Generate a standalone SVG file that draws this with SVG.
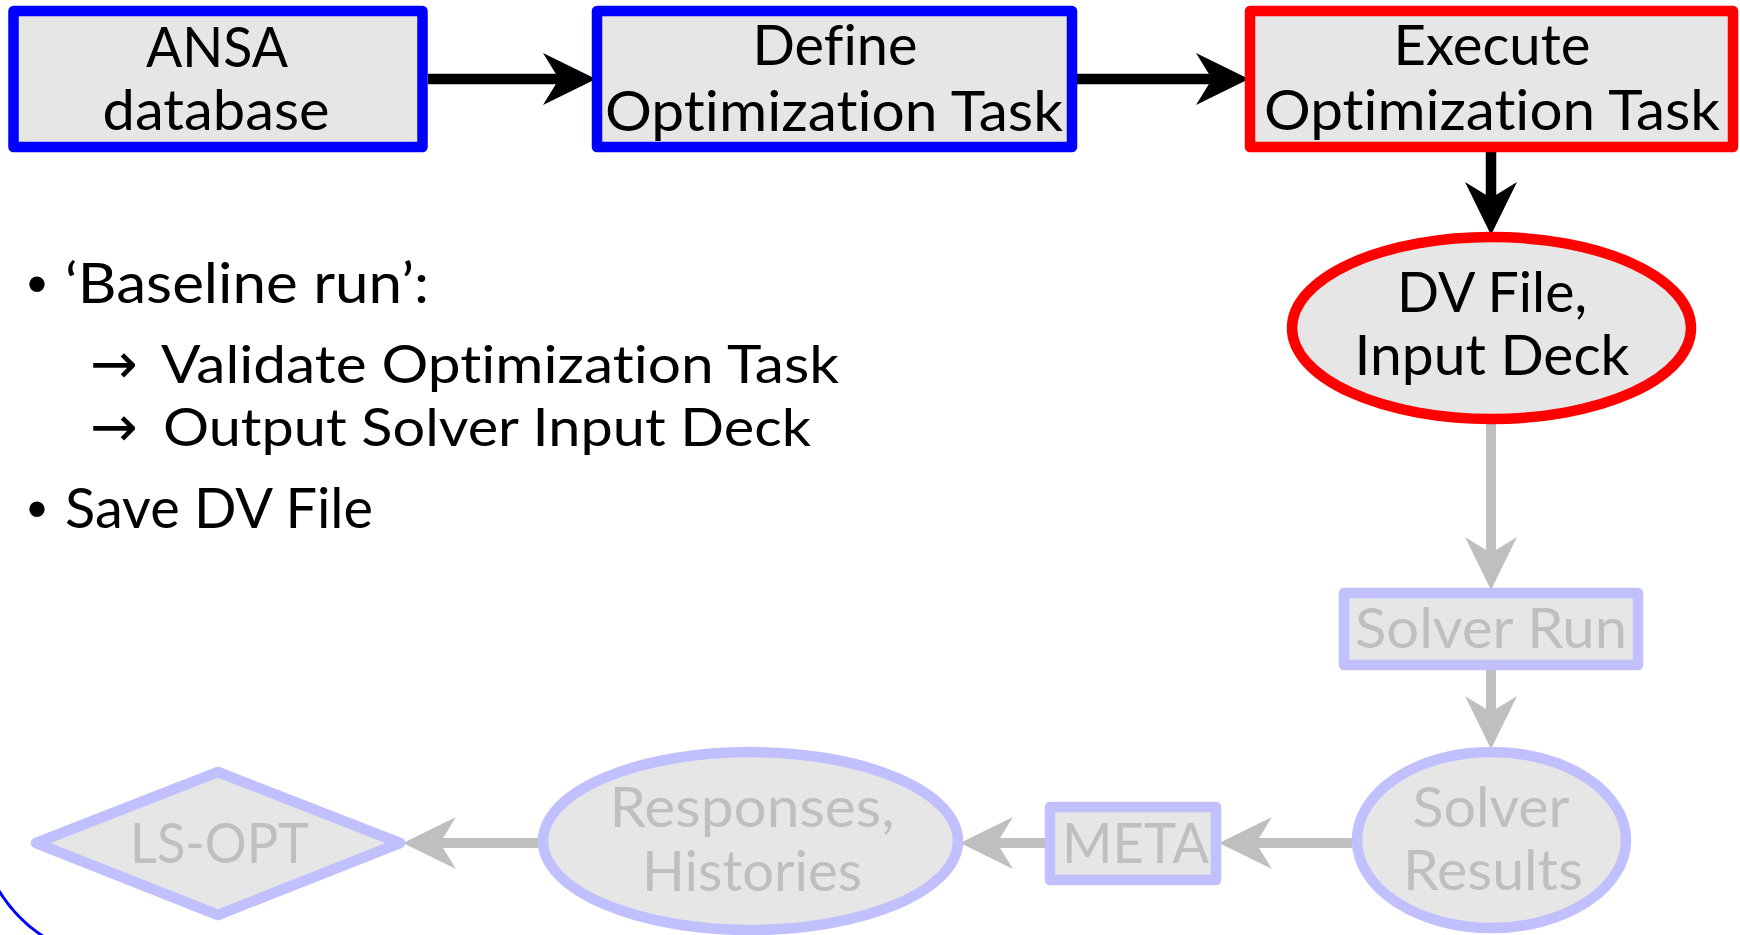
<svg xmlns="http://www.w3.org/2000/svg" width="1740" height="935" viewBox="0 0 1740 935">
<defs>
<style>
.box{fill:#e6e6e6;stroke-width:10.5;stroke-linejoin:round}
.blue{stroke:#0000ff}
.red{stroke:#ff0000}
.lav{stroke:#c0c0ff}
.t{font-family:Lato,"Liberation Sans",sans-serif;font-size:57px;text-anchor:middle;fill:#000;font-variant-ligatures:none;font-feature-settings:"liga" 0,"clig" 0}
.tl{font-family:Lato,"Liberation Sans",sans-serif;font-size:57px;fill:#000;font-variant-ligatures:none;font-feature-settings:"liga" 0,"clig" 0}
.sm{font-size:52px}
.ar{font-family:"DejaVu Sans",sans-serif;font-size:57px}
.bu{font-family:"Liberation Sans",sans-serif}
.g{fill:#bfbfbf}
.blk{stroke:#000;stroke-width:10.5;fill:none}
.gry{stroke:#bfbfbf;stroke-width:10;fill:none}
</style>
<marker id="ah" markerUnits="userSpaceOnUse" viewBox="0 0 53 52" refX="16" refY="26" markerWidth="53" markerHeight="52" orient="auto"><path d="M0,0 L53,26 L0,52 L16,26 Z" fill="#000"/></marker>
<marker id="ahg" markerUnits="userSpaceOnUse" viewBox="0 0 53 52" refX="16" refY="26" markerWidth="53" markerHeight="52" orient="auto"><path d="M0,0 L53,26 L0,52 L16,26 Z" fill="#bfbfbf"/></marker>
</defs>
<rect width="1740" height="935" fill="#fff"/>
<path d="M-4,886 Q16,920 46,938" fill="none" stroke="#0000ff" stroke-width="3"/>
<g id="connectors">
<path class="blk" d="M428,79 H559" marker-end="url(#ah)"/>
<path class="blk" d="M1077,79 H1212" marker-end="url(#ah)"/>
<path class="blk" d="M1491,152 V198" marker-end="url(#ah)"/>
<path class="gry" d="M1491,424 V553" marker-end="url(#ahg)"/>
<path class="gry" d="M1491,670 V712" marker-end="url(#ahg)"/>
<path class="gry" d="M1352,843 H1256" marker-end="url(#ahg)"/>
<path class="gry" d="M1045,843 H997" marker-end="url(#ahg)"/>
<path class="gry" d="M538,843 H440" marker-end="url(#ahg)"/>
</g>
<g id="ansa">
<rect class="box blue" x="13.5" y="11" width="409" height="136"/>
<text class="t" x="217" y="67" textLength="142" lengthAdjust="spacingAndGlyphs">ANSA</text>
<text class="t" x="216" y="130" textLength="227" lengthAdjust="spacingAndGlyphs">database</text>
</g>
<g id="define">
<rect class="box blue" x="597" y="11" width="475" height="136"/>
<text class="t" x="835" y="65" textLength="165" lengthAdjust="spacingAndGlyphs">Define</text>
<text class="t" x="834" y="131" textLength="458" lengthAdjust="spacingAndGlyphs">Optimization Task</text>
</g>
<g id="execute">
<rect class="box red" x="1250" y="11" width="483" height="136"/>
<text class="t" x="1492" y="65" textLength="197" lengthAdjust="spacingAndGlyphs">Execute</text>
<text class="t" x="1492" y="130" textLength="456" lengthAdjust="spacingAndGlyphs">Optimization Task</text>
</g>
<g id="dvfile">
<ellipse class="box red" cx="1491.5" cy="328" rx="199.5" ry="91"/>
<text class="t" x="1492" y="312" textLength="190" lengthAdjust="spacingAndGlyphs">DV File,</text>
<text class="t" x="1492" y="375" textLength="275" lengthAdjust="spacingAndGlyphs">Input Deck</text>
</g>
<g id="solverrun">
<rect class="box lav" x="1344" y="593" width="294" height="72"/>
<text class="t g" x="1491" y="648" textLength="272" lengthAdjust="spacingAndGlyphs">Solver Run</text>
</g>
<g id="solverresults">
<ellipse class="box lav" cx="1491.5" cy="840" rx="134.5" ry="88"/>
<text class="t g" x="1491" y="827" textLength="157" lengthAdjust="spacingAndGlyphs">Solver</text>
<text class="t g" x="1493" y="890" textLength="180" lengthAdjust="spacingAndGlyphs">Results</text>
</g>
<g id="meta">
<rect class="box lav" x="1050" y="807" width="166" height="73"/>
<text class="t g" x="1135.5" y="863" textLength="147" lengthAdjust="spacingAndGlyphs">META</text>
</g>
<g id="responses">
<ellipse class="box lav" cx="750.5" cy="841" rx="207.5" ry="89"/>
<text class="t g" x="752" y="827" textLength="285" lengthAdjust="spacingAndGlyphs">Responses,</text>
<text class="t g" x="752" y="891" textLength="220" lengthAdjust="spacingAndGlyphs">Histories</text>
</g>
<g id="lsopt">
<polygon class="box lav" points="36,843 218,772 400,843 218,915"/>
<text class="t g" x="219.5" y="863" textLength="179" lengthAdjust="spacingAndGlyphs">LS-OPT</text>
</g>
<g id="bullets">
<text class="tl" y="303"><tspan class="bu" x="27">•</tspan><tspan x="65" textLength="364" lengthAdjust="spacingAndGlyphs">‘Baseline run’:</tspan></text>
<text class="tl sm" y="383"><tspan class="ar" x="90">→</tspan><tspan x="161" textLength="678" lengthAdjust="spacingAndGlyphs">Validate Optimization Task</tspan></text>
<text class="tl sm" y="446"><tspan class="ar" x="90">→</tspan><tspan x="163" textLength="648" lengthAdjust="spacingAndGlyphs">Output Solver Input Deck</tspan></text>
<text class="tl" y="528"><tspan class="bu" x="27">•</tspan><tspan x="65" textLength="308" lengthAdjust="spacingAndGlyphs">Save DV File</tspan></text>
</g>
</svg>
